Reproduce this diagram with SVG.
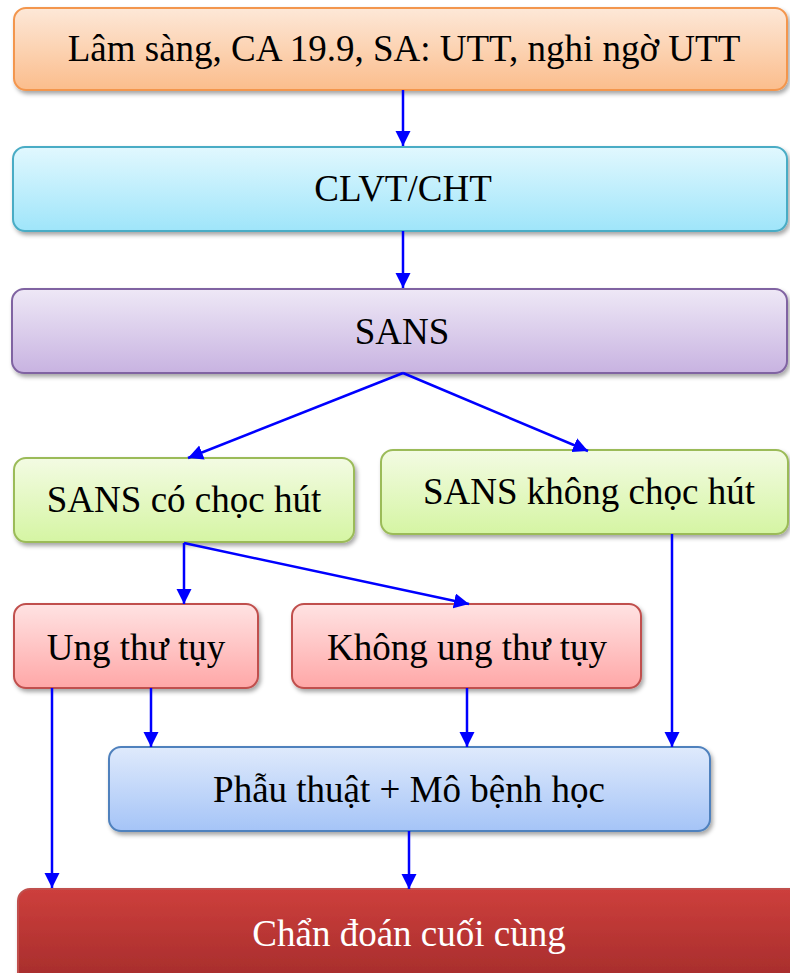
<svg xmlns="http://www.w3.org/2000/svg" width="790" height="973" viewBox="0 0 790 973">
<defs>
<linearGradient id="gOrange" x1="0" y1="0" x2="0" y2="1"><stop offset="0" stop-color="#fde8d8"/><stop offset="1" stop-color="#fbbd8c"/></linearGradient>
<linearGradient id="gCyan" x1="0" y1="0" x2="0" y2="1"><stop offset="0" stop-color="#e1f8fe"/><stop offset="1" stop-color="#9fe5fa"/></linearGradient>
<linearGradient id="gPurple" x1="0" y1="0" x2="0" y2="1"><stop offset="0" stop-color="#eee8f6"/><stop offset="1" stop-color="#c8b3e1"/></linearGradient>
<linearGradient id="gGreen" x1="0" y1="0" x2="0" y2="1"><stop offset="0" stop-color="#f3fbe3"/><stop offset="1" stop-color="#d5f5a3"/></linearGradient>
<linearGradient id="gPink" x1="0" y1="0" x2="0" y2="1"><stop offset="0" stop-color="#ffe3e3"/><stop offset="1" stop-color="#ffa7a7"/></linearGradient>
<linearGradient id="gBlue" x1="0" y1="0" x2="0" y2="1"><stop offset="0" stop-color="#dfeafc"/><stop offset="1" stop-color="#a5c4f7"/></linearGradient>
<linearGradient id="gRed" x1="0" y1="0" x2="0" y2="1"><stop offset="0" stop-color="#cd3f3c"/><stop offset="1" stop-color="#a22b2a"/></linearGradient>
<filter id="sh" x="-5%" y="-10%" width="115%" height="130%"><feDropShadow dx="2" dy="3" stdDeviation="2" flood-color="#000" flood-opacity="0.35"/></filter>
<marker id="ah" markerUnits="userSpaceOnUse" markerWidth="16" markerHeight="16" refX="15" refY="7.5" orient="auto"><path d="M0,0 L15,7.5 L0,15 z" fill="#0000ff"/></marker>
</defs>
<style>
.box{stroke-width:2;filter:url(#sh)}
.t{font-family:'Liberation Serif','Times New Roman',serif;font-size:37px;text-anchor:middle;fill:#000}
.conn line{stroke:#0000ff;stroke-width:2.5;fill:none}
</style>
<g id="n1"><rect class="box" x="14" y="8" width="773" height="82" rx="12" fill="url(#gOrange)" stroke="#f3964e"/><text class="t" x="404" y="61">Lâm sàng, CA 19.9, SA: UTT, nghi ngờ UTT</text></g>
<g id="n2"><rect class="box" x="13" y="147" width="774" height="84" rx="12" fill="url(#gCyan)" stroke="#4aacc5"/><text class="t" x="403" y="201">CLVT/CHT</text></g>
<g id="n3"><rect class="box" x="12" y="289" width="775" height="84" rx="12" fill="url(#gPurple)" stroke="#8064a2"/><text class="t" x="402" y="344">SANS</text></g>
<g id="n4"><rect class="box" x="14" y="458" width="340" height="84" rx="12" fill="url(#gGreen)" stroke="#9bbb59"/><text class="t" x="184" y="512">SANS có chọc hút</text></g>
<g id="n5"><rect class="box" x="381" y="450" width="407" height="84" rx="12" fill="url(#gGreen)" stroke="#9bbb59"/><text class="t" x="589" y="504">SANS không chọc hút</text></g>
<g id="n6"><rect class="box" x="14" y="604" width="244" height="84" rx="12" fill="url(#gPink)" stroke="#c0504d"/><text class="t" x="136" y="660">Ung thư tụy</text></g>
<g id="n7"><rect class="box" x="292" y="604" width="349" height="84" rx="12" fill="url(#gPink)" stroke="#c0504d"/><text class="t" x="467" y="660">Không ung thư tụy</text></g>
<g id="n8"><rect class="box" x="109" y="747" width="601" height="84" rx="12" fill="url(#gBlue)" stroke="#4f81bd"/><text class="t" x="409" y="802">Phẫu thuật + Mô bệnh học</text></g>
<g id="n9"><rect class="box" x="18" y="889" width="790" height="100" rx="12" fill="url(#gRed)" stroke="#c0504d" stroke-width="1"/><text class="t" x="409" y="946" style="fill:#ffffff">Chẩn đoán cuối cùng</text></g>
<g id="connectors" class="conn">
<line x1="403" y1="90" x2="403" y2="146" marker-end="url(#ah)"/>
<line x1="403" y1="231" x2="403" y2="288" marker-end="url(#ah)"/>
<line x1="403" y1="373" x2="188" y2="458" marker-end="url(#ah)"/>
<line x1="403" y1="373" x2="588" y2="451" marker-end="url(#ah)"/>
<line x1="184" y1="543" x2="184" y2="604" marker-end="url(#ah)"/>
<line x1="184" y1="543" x2="469" y2="604" marker-end="url(#ah)"/>
<line x1="52" y1="688" x2="52" y2="888" marker-end="url(#ah)"/>
<line x1="151" y1="688" x2="151" y2="747" marker-end="url(#ah)"/>
<line x1="467" y1="688" x2="467" y2="747" marker-end="url(#ah)"/>
<line x1="672" y1="534" x2="672" y2="747" marker-end="url(#ah)"/>
<line x1="409" y1="831" x2="409" y2="889" marker-end="url(#ah)"/>
</g>
</svg>
